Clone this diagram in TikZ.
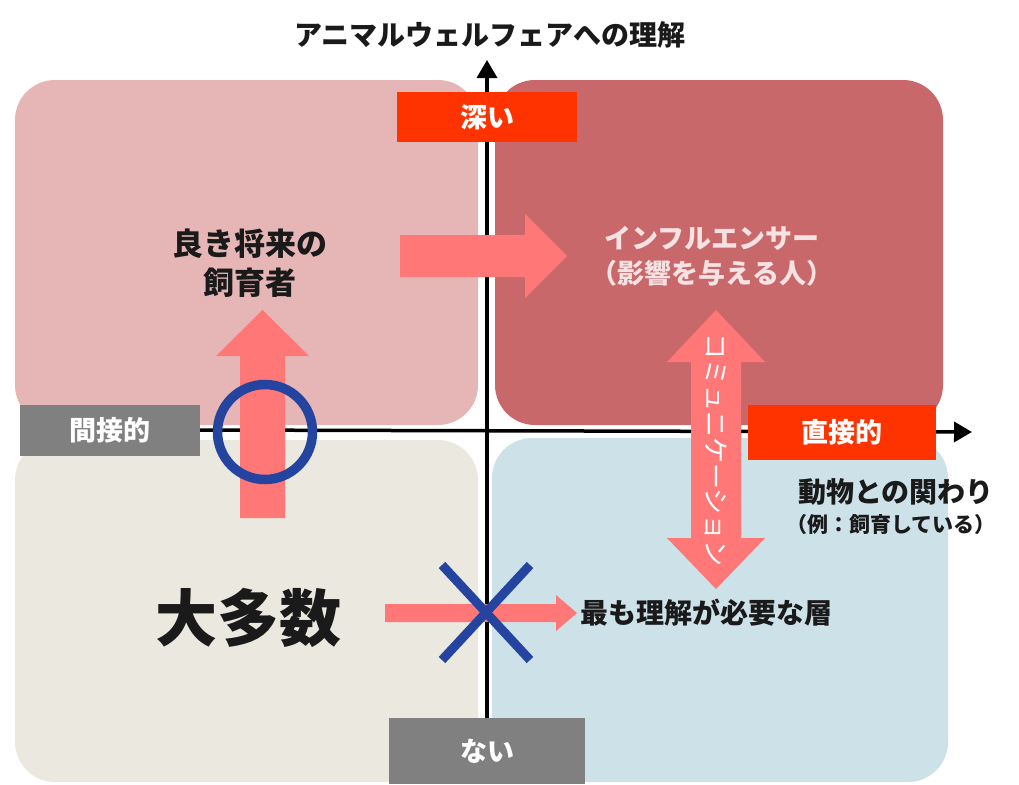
\documentclass[tikz,border=0pt]{standalone}
\usepackage{fontspec}
\setmainfont{Noto Sans CJK JP}
\usetikzlibrary{arrows.meta}
\definecolor{qTL}{HTML}{E6B6B6}
\definecolor{qTR}{HTML}{C9686A}
\definecolor{qBL}{HTML}{EBE8DF}
\definecolor{qBR}{HTML}{CDE1E9}
\definecolor{pinkA}{HTML}{FF7777}
\definecolor{redL}{HTML}{FF3300}
\definecolor{grayL}{HTML}{808080}
\definecolor{blueM}{HTML}{2444A0}
\definecolor{inkT}{HTML}{1A1A1A}
\definecolor{softW}{HTML}{F6E2E2}
\newcommand{\fs}[1]{\fontsize{#1}{#1}\selectfont\bfseries}
\newcommand{\fr}[1]{\fontsize{#1}{#1}\selectfont}
\begin{document}
\begin{tikzpicture}[x=1pt,y=-1pt,
  quad/.style={rounded corners=40pt},
  lblbox/.style={text=white, inner sep=0pt, font=\fs{27}},
  axisline/.style={line width=3.5pt, draw=black, -{Triangle[length=18pt,width=20pt]}},
  blockarrow/.style={fill=pinkA},
  crossline/.style={draw=blueM, line width=9pt},
  txt/.style={text=inkT, inner sep=0pt}]
\useasboundingbox (0,0) rectangle (1019,784);
% quadrants
\fill[qTL, quad] (15,80) rectangle (478,425);
\fill[qTR, quad] (495,80) rectangle (943,425);
\fill[qBL, quad] (15,440) rectangle (478,782);
\fill[qBR, quad] (492,438) rectangle (948,782);
% axis labels
\node[lblbox, fill=grayL, minimum width=180pt, minimum height=51pt] (indirect) at (110,430) {間接的};
\node[lblbox, fill=grayL, minimum width=196pt, minimum height=66pt] (none) at (487,751) {ない};
\coordinate (yend) at (487,60);
\coordinate (xend) at (972,432);
% axes
\draw[axisline] (none.north) -- (yend);
\draw[axisline] (indirect.east) -- (xend);
\node[lblbox, fill=redL, minimum width=180pt, minimum height=50pt] (deep) at (487,117) {深い};
\node[lblbox, fill=redL, minimum width=188pt, minimum height=55pt] (direct) at (842,432) {直接的};
% block arrows
\fill[blockarrow] (400,235) -- (525,235) -- (525,214) -- (567,256) -- (525,298) -- (525,277) -- (400,277) -- cycle;
\fill[blockarrow] (240,518) -- (240,356) -- (216,356) -- (262.5,310) -- (309,356) -- (285,356) -- (285,518) -- cycle;
\fill[blockarrow] (716,310) -- (765,362) -- (741,362) -- (741,538) -- (765,538) -- (716,589) -- (667,538) -- (691,538) -- (691,362) -- (667,362) -- cycle;
\fill[blockarrow] (385,604) -- (556,604) -- (556,595) -- (577,613) -- (556,631) -- (556,622) -- (385,622) -- cycle;
% circle and cross
\node[draw=blueM, line width=9.5pt, circle, minimum size=95pt, inner sep=0pt] (ring) at (265,432) {};
\coordinate (xa) at (442,565);
\coordinate (xb) at (530,660);
\coordinate (xc) at (530,565);
\coordinate (xd) at (442,660);
\draw[crossline] (xa) -- (xb);
\draw[crossline] (xc) -- (xd);
% texts
\node[txt, font=\fs{28}] (title) at (490,35) {アニマルウェルフェアへの理解};
\node[txt, font=\fs{31}, align=center] (good) at (250,263) {良き将来の\\[8pt]飼育者};
\node[txt, text=softW, font=\fs{27}, align=center] (infl) at (712,256) {インフルエンサー\\[8pt]（影響を与える人）};
\node[text=white, inner sep=0pt, font=\fr{26}, rotate=-90] (comm) at (716,450) {コミュニケーション};
\node[txt, font=\fs{62}] (major) at (248,618) {大多数};
\node[txt, font=\fs{28}, anchor=west] (need) at (580,613) {最も理解が必要な層};
\node[txt, font=\fs{28}, anchor=west] (anim) at (798,492) {動物との関わり};
\node[txt, font=\fs{21}, anchor=west] (ex) at (786,525) {（例：飼育している）};
\end{tikzpicture}
\end{document}
